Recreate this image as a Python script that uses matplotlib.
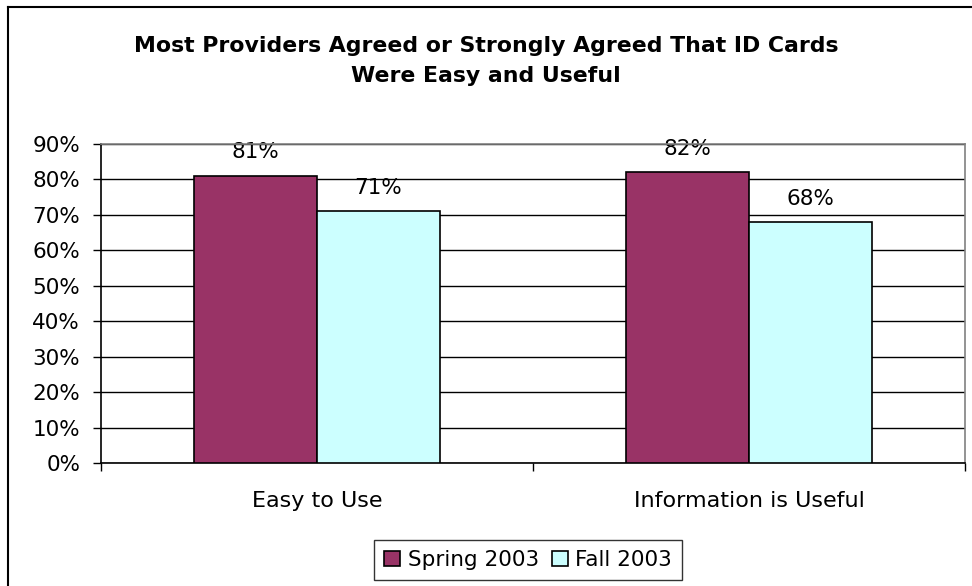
import matplotlib.pyplot as plt
from matplotlib.lines import Line2D
from matplotlib.ticker import FixedLocator, NullFormatter

plt.rcParams['font.family'] = ['DejaVu Sans']

categories = ['Easy to Use', 'Information is Useful']
series_names = ['Spring 2003', 'Fall 2003']
spring = [81, 82]
fall = [71, 68]
colors = ['#993366', '#CCFFFF']

fig = plt.figure(figsize=(9.72, 5.86), dpi=100)
ax = fig.add_axes([101 / 972, 1 - 463 / 586, 864 / 972, 319 / 586])

width = 0.285
centers = [i + 0.5 for i in range(len(categories))]
for k, (vals, name, col) in enumerate(zip([spring, fall], series_names, colors)):
    xs = [c + (k - 0.5) * width for c in centers]
    ax.bar(xs, vals, width=width, color=col, edgecolor='black',
           linewidth=1.2, label=name, zorder=3)
    for x, v in zip(xs, vals):
        ax.text(x, v + 3.8, f'{v}%', ha='center', va='bottom', fontsize=15.5, zorder=1)

ax.set_ylim(0, 90)
ax.set_yticks(range(0, 91, 10))
ax.set_yticklabels([f'{t}%' for t in range(0, 91, 10)], fontsize=15.5)
ax.yaxis.grid(True, color='black', linewidth=1, zorder=2)
ax.tick_params(axis='y', length=6, width=1, direction='out', pad=9)

ax.set_xlim(0, len(categories))
ax.xaxis.set_major_locator(FixedLocator(range(len(categories) + 1)))
ax.xaxis.set_major_formatter(NullFormatter())
ax.xaxis.set_minor_locator(FixedLocator(centers))
ax.set_xticklabels(categories, minor=True, fontsize=16)
ax.tick_params(axis='x', which='major', length=6, width=1, direction='out')
ax.tick_params(axis='x', which='minor', length=0, pad=20)

for side in ['top', 'right']:
    ax.spines[side].set_color('#808080')
for side in ['left', 'bottom']:
    ax.spines[side].set_color('black')
for s in ax.spines.values():
    s.set_linewidth(1.2)

fig.text(0.5, 1 - 61 / 586,
         'Most Providers Agreed or Strongly Agreed That ID Cards\nWere Easy and Useful',
         ha='center', va='center', fontsize=15.8, fontweight='bold', linespacing=1.65)

leg = fig.legend(loc='center', bbox_to_anchor=(528 / 972, 1 - 560 / 586), ncol=2,
                 fontsize=15.5, frameon=True, fancybox=False, edgecolor='black',
                 handlelength=0.75, handleheight=0.75, handletextpad=0.35,
                 columnspacing=0.6, borderpad=0.45)
leg.get_frame().set_linewidth(1)

# outer chart frame (left and top edges)
fig.add_artist(Line2D([8 / 972, 8 / 972], [0, 1 - 7 / 586], color='black', linewidth=1.5,
                      transform=fig.transFigure))
fig.add_artist(Line2D([8 / 972, 1], [1 - 7 / 586, 1 - 7 / 586], color='black', linewidth=1.5,
                      transform=fig.transFigure))

fig.savefig('out.png', dpi=100)
